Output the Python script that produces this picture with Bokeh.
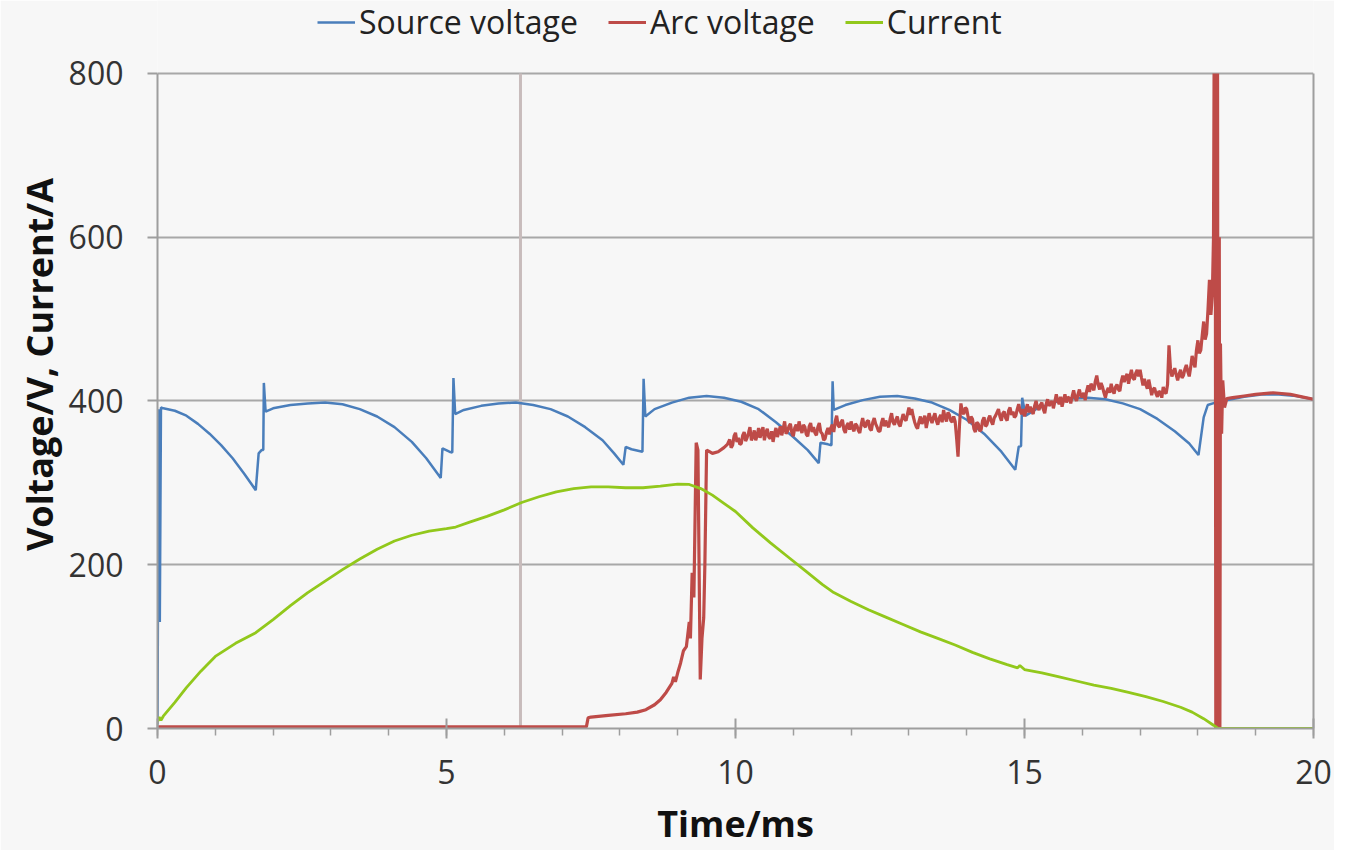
from bokeh.plotting import figure
from bokeh.models import Legend, LegendItem, FixedTicker, Range1d, LinearAxis
from bokeh.embed import file_html
from bokeh.resources import INLINE

# ---------------- data ----------------
src_t = [0, 0.02, 0.04, 0.06,
         0.1, 0.3, 0.5, 0.7, 0.9, 1.1, 1.3, 1.5, 1.7,
         1.75, 1.8, 1.83, 1.84, 1.87,
         2.0, 2.3, 2.6, 2.9, 3.2, 3.5, 3.8, 4.1, 4.4, 4.65, 4.9,
         4.93, 5.05, 5.1, 5.12, 5.15,
         5.3, 5.6, 5.9, 6.2, 6.5, 6.8, 7.1, 7.4, 7.7, 7.9, 8.06,
         8.1, 8.2, 8.39, 8.41, 8.44,
         8.6, 8.9, 9.2, 9.5, 9.8, 10.1, 10.4, 10.7, 11.0, 11.25, 11.44,
         11.47, 11.6, 11.66, 11.68, 11.7,
         11.9, 12.2, 12.5, 12.8, 13.1, 13.4, 13.7, 14.0, 14.3, 14.6, 14.84,
         14.9, 14.94, 14.96, 15.02,
         15.2, 15.5, 15.8, 16.1, 16.4, 16.7, 17.0, 17.3, 17.6, 17.85, 18.01,
         18.1, 18.17, 18.3, 18.51, 18.8, 19.1, 19.4, 19.7, 20]
src_v = [5, 390, 130, 392,
         391, 388, 382, 372, 360, 346, 330, 311, 291,
         336, 340, 340, 422, 387,
         391, 395, 397, 398, 396, 390, 381, 368, 350, 330, 306,
         342, 338, 337, 428, 384,
         389, 394, 397, 398, 395, 390, 381, 368, 352, 336, 322,
         344, 341, 338, 427, 381,
         390, 398, 404, 406, 404, 399, 390, 374, 356, 340, 324,
         349, 347, 346, 424, 389,
         395, 401, 405, 406, 403, 398, 389, 377, 360, 338, 316,
         344, 345, 404, 382,
         390, 398, 403, 404, 402, 397, 390, 378, 363, 348, 334,
         380, 395, 398, 401, 405, 408, 408, 406, 402]

# arc voltage: quiet start and re-ignition
arc_head_t = [0, 7.42, 7.45, 7.5, 7.8, 8.1, 8.3, 8.45, 8.6, 8.7, 8.8, 8.9, 8.93, 8.96, 9.0,
              9.05, 9.1, 9.15, 9.2, 9.22, 9.25, 9.28, 9.32, 9.35, 9.37, 9.39, 9.42, 9.45,
              9.47, 9.5, 9.55, 9.6, 9.7, 9.8, 9.86]
arc_head_v = [2, 2, 13, 14, 16, 18, 20, 23, 29, 35, 44, 55, 63, 57, 68,
              80, 95, 100, 130, 110, 190, 160, 349, 340, 200, 60, 110, 135,
              200, 340, 338, 336, 338, 343, 347]
# arc voltage: noisy burning phase (samples every 0.05 ms)
arc_noise_t = [9.90, 9.95, 10.00, 10.05, 10.10, 10.15, 10.20, 10.25, 10.30, 10.35,
               10.40, 10.45, 10.50, 10.55, 10.60, 10.65, 10.70, 10.75, 10.80, 10.85,
               10.90, 10.95, 11.00, 11.05, 11.10, 11.15, 11.20, 11.25, 11.30, 11.35,
               11.40, 11.45, 11.50, 11.55, 11.60, 11.65, 11.70, 11.75, 11.80, 11.85,
               11.90, 11.95, 12.00, 12.05, 12.10, 12.15, 12.20, 12.25, 12.30, 12.35,
               12.40, 12.45, 12.50, 12.55, 12.60, 12.65, 12.70, 12.75, 12.80, 12.85,
               12.90, 12.95, 13.00, 13.05, 13.10, 13.15, 13.20, 13.25, 13.30, 13.35,
               13.40, 13.45, 13.50, 13.55, 13.60, 13.65, 13.70, 13.75, 13.80, 13.85,
               13.90, 13.95, 14.00, 14.05, 14.10, 14.15, 14.20, 14.25, 14.30, 14.35,
               14.40, 14.45, 14.50, 14.55, 14.60, 14.65, 14.70, 14.75, 14.80, 14.85,
               14.90, 14.95, 15.00, 15.05, 15.10, 15.15, 15.20, 15.25, 15.30, 15.35,
               15.40, 15.45, 15.50, 15.55, 15.60, 15.65, 15.70, 15.75, 15.80, 15.85,
               15.90, 15.95, 16.00, 16.05, 16.10, 16.15, 16.20, 16.25, 16.30, 16.35,
               16.40, 16.45, 16.50, 16.55, 16.60, 16.65, 16.70, 16.75, 16.80, 16.85,
               16.90, 16.95, 17.00, 17.05, 17.10, 17.15, 17.20, 17.25, 17.30, 17.35,
               17.40, 17.45, 17.50, 17.55, 17.60, 17.65, 17.70, 17.75, 17.80, 17.85,
               17.90, 17.95, 18.00, 18.05, 18.10, 18.15, 18.20, 18.25]
arc_noise_v = [353, 346, 361, 355, 348, 362, 355, 368, 356, 352,
               367, 362, 352, 366, 354, 350, 367, 362, 358, 375,
               363, 372, 357, 371, 375, 361, 368, 357, 373, 368,
               358, 373, 360, 354, 367, 367, 362, 382, 368, 377,
               361, 373, 375, 363, 370, 361, 379, 368, 376, 364,
               379, 368, 363, 379, 376, 368, 385, 371, 381, 369,
               384, 376, 392, 390, 374, 366, 381, 376, 367, 385,
               373, 385, 371, 383, 389, 375, 383, 374, 375, 332,
               397, 384, 390, 373, 378, 362, 372, 365, 380, 371,
               382, 371, 382, 390, 376, 387, 376, 392, 387, 382,
               396, 384, 381, 396, 393, 384, 400, 389, 398, 385,
               402, 397, 391, 408, 396, 393, 408, 405, 397, 413,
               400, 414, 405, 401, 419, 421, 413, 431, 414, 417,
               404, 416, 421, 409, 420, 412, 431, 429, 421, 438,
               426, 438, 438, 419, 420, 426, 407, 416, 405, 410,
               417, 409, 468, 430, 440, 425, 438, 431, 444, 430,
               455, 441, 474, 462, 497, 482, 548, 530]
# in-between samples (0.025 ms after each of the samples above)
arc_noise_mid_v = [343, 357, 350, 347, 358, 351, 361, 352, 364, 358,
                   355, 368, 361, 356, 363, 360, 356, 369, 366, 360,
                   369, 361, 367, 363, 366, 371, 359, 369, 362, 361,
                   368, 362, 352, 362, 359, 371, 375, 370, 374, 365,
                   370, 365, 367, 372, 364, 371, 370, 375, 366, 374,
                   372, 363, 373, 369, 371, 378, 374, 377, 372, 377,
                   378, 384, 383, 381, 369, 375, 372, 382, 376, 378,
                   380, 376, 379, 374, 380, 386, 376, 381, 355, 370,
                   386, 392, 380, 381, 366, 374, 363, 376, 369, 378,
                   375, 379, 386, 381, 385, 379, 388, 383, 380, 390,
                   388, 390, 389, 386, 388, 394, 392, 395, 390, 396,
                   394, 400, 399, 400, 405, 401, 398, 403, 406, 404,
                   408, 406, 410, 412, 411, 417, 424, 420, 422, 410,
                   412, 410, 413, 417, 414, 424, 423, 433, 430, 428,
                   434, 430, 428, 427, 415, 417, 414, 409, 412, 404,
                   411, 420, 440, 435, 432, 433, 428, 439, 436, 441,
                   447, 462, 458, 480, 475, 512, 505]
# arc voltage: interruption spike and recovery (clipped at the 800 V top)
arc_tail_t = [18.27, 18.28, 18.29, 18.30, 18.31, 18.32, 18.33, 18.34, 18.35, 18.36, 18.37,
              18.38, 18.39, 18.41, 18.43, 18.46, 18.50, 18.6, 18.8, 19.0, 19.3, 19.6, 19.8,
              20.0]
arc_tail_v = [600, 800, 590, 800, -20, 800, -20, 800, -20, -20, 600,
              -20, 470, 360, 425, 392, 403, 404, 406, 408, 410, 408, 405,
              402]

cur_t = [0, 0.03, 0.06, 0.1, 0.3, 0.5, 0.75, 1.0, 1.35, 1.7, 2.0, 2.3, 2.6, 2.9, 3.2, 3.5,
         3.8, 4.1, 4.4, 4.7, 5.0, 5.16, 5.4, 5.7, 6.0, 6.3, 6.6, 6.9, 7.2, 7.5, 7.8, 8.1,
         8.4, 8.7, 9.0, 9.2, 9.4, 9.6, 9.8, 10.0, 10.3, 10.6, 10.9, 11.2, 11.5, 11.7, 12.0,
         12.3, 12.6, 12.9, 13.2, 13.5, 13.8, 14.1, 14.4, 14.7, 14.88, 14.92, 15.0, 15.3,
         15.6, 15.9, 16.2, 16.5, 16.8, 17.1, 17.4, 17.7, 17.9, 18.1, 18.27, 18.35, 20]
cur_v = [8, 14, 10, 15, 32, 50, 70, 88, 104, 117, 133, 150, 166, 180, 194, 207,
         219, 229, 236, 241, 244, 246, 252, 259, 267, 276, 283, 289, 293, 295, 295, 294,
         294, 296, 298.5, 298, 293, 285, 275, 265, 245, 227, 210, 193, 176, 166, 155,
         145, 136, 127, 118, 110, 102, 93, 85, 78, 74, 77, 72, 68,
         63, 58, 53, 49, 44, 39, 33, 26, 20, 12, 4, 0, 0]

x_ticks = [0, 5, 10, 15, 20]
x_minor = list(range(0, 21))
y_ticks = [0, 200, 400, 600, 800]
MARKER_T = 6.28
series_names = ["Source voltage", "Arc voltage", "Current"]
series_colors = ["#4a7ebb", "#be4b48", "#92c81c"]

X_MIN, X_MAX = 0, 20
Y_MIN, Y_MAX = 0, 800
Y_TOP = 889   # range headroom above 800 that holds the legend

# assemble the arc-voltage trace
noise_pts = [(t, v) for t, v in zip(arc_noise_t, arc_noise_v)]
noise_pts += [(round(t + 0.025, 3), v) for t, v in zip(arc_noise_t, arc_noise_mid_v)]
noise_pts.sort()
arc_t = arc_head_t + [t for t, _ in noise_pts] + arc_tail_t
arc_v = arc_head_v + [v for _, v in noise_pts] + arc_tail_v

FONT = "Open Sans"
BG = "#f7f7f7"
AXC = "#9e9e9e"

p = figure(width=1334, height=850, output_backend="svg", toolbar_location=None,
           x_range=Range1d(X_MIN, X_MAX), y_range=Range1d(Y_MIN, Y_TOP),
           min_border_left=157, min_border_right=21, min_border_top=0, min_border_bottom=121)
p.background_fill_color = BG
p.border_fill_color = BG
p.outline_line_color = None

p.xgrid.visible = False
p.ygrid.ticker = FixedTicker(ticks=y_ticks)
p.ygrid.grid_line_color = "#a8a8a8"
p.ygrid.grid_line_width = 2

# vertical marker line
p.segment(x0=[MARKER_T], y0=[Y_MIN], x1=[MARKER_T], y1=[Y_MAX],
          line_color="#c8bcbc", line_width=3)

r_src = p.line(src_t, src_v, line_color=series_colors[0], line_width=2.5)
r_arc = p.line(arc_t, arc_v, line_color=series_colors[1], line_width=3.2)
r_cur = p.line(cur_t, cur_v, line_color=series_colors[2], line_width=2.8)

# axes
xa = p.xaxis[0]
xa.ticker = FixedTicker(ticks=x_ticks, minor_ticks=x_minor)
xa.axis_label = "Time/ms"
ya = p.yaxis[0]
ya.ticker = FixedTicker(ticks=y_ticks)
ya.bounds = (Y_MIN, Y_MAX)
ya.axis_label = "Voltage/V, Current/A"
for ax in (xa, ya):
    ax.axis_line_color = AXC
    ax.axis_line_width = 2
    ax.major_tick_line_color = AXC
    ax.major_tick_line_width = 2
    ax.minor_tick_line_color = AXC
    ax.minor_tick_line_width = 1.5
    ax.major_label_text_font = FONT
    ax.major_label_text_font_size = "32px"
    ax.major_label_text_color = "#333333"
    ax.axis_label_text_font = FONT
    ax.axis_label_text_font_size = "36px"
    ax.axis_label_text_font_style = "bold"
    ax.axis_label_text_color = "#111111"
xa.major_tick_in = 10
xa.major_tick_out = 10
xa.minor_tick_in = 0
xa.minor_tick_out = 7
xa.major_label_standoff = 21
xa.axis_label_standoff = 12
ya.major_tick_in = 0
ya.major_tick_out = 10
ya.minor_tick_line_color = None
ya.major_label_standoff = 24
ya.axis_label_standoff = 2

# right border of the plot area
ra = LinearAxis(bounds=(Y_MIN, Y_MAX), ticker=FixedTicker(ticks=[]),
                axis_line_color=AXC, axis_line_width=2,
                major_tick_line_color=None, minor_tick_line_color=None,
                major_label_text_color=None)
p.add_layout(ra, "right")

legend = Legend(items=[LegendItem(label=series_names[0], renderers=[r_src]),
                       LegendItem(label=series_names[1], renderers=[r_arc]),
                       LegendItem(label=series_names[2], renderers=[r_cur])],
                orientation="horizontal", location=(160, 685))
legend.label_text_font = FONT
legend.label_text_font_size = "32px"
legend.label_text_color = "#222222"
legend.glyph_width = 38
legend.glyph_height = 20
legend.label_standoff = 4
legend.spacing = 30
legend.padding = 0
legend.margin = 0
legend.border_line_color = None
legend.background_fill_alpha = 0
p.add_layout(legend, "center")

open("out.html", "w").write(file_html(p, INLINE))
